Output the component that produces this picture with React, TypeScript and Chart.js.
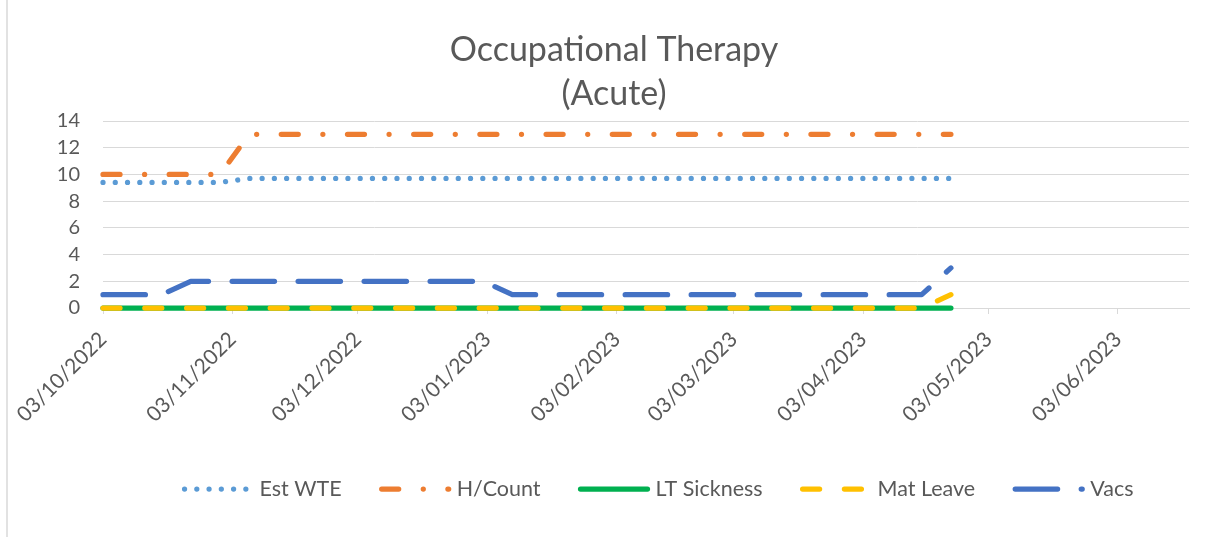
import React, { useEffect, useRef } from 'react';
import { Chart, registerables } from 'chart.js';

Chart.register(...registerables);

// ---------- data ----------
const titleLines = ['Occupational Therapy', '(Acute)'];

const weekDates = [
  '03/10/2022', '10/10/2022', '17/10/2022', '24/10/2022', '31/10/2022',
  '07/11/2022', '14/11/2022', '21/11/2022', '28/11/2022',
  '05/12/2022', '12/12/2022', '19/12/2022', '26/12/2022',
  '02/01/2023', '09/01/2023', '16/01/2023', '23/01/2023', '30/01/2023',
  '06/02/2023', '13/02/2023', '20/02/2023', '27/02/2023',
  '06/03/2023', '13/03/2023', '20/03/2023', '27/03/2023',
  '03/04/2023', '10/04/2023', '17/04/2023', '24/04/2023',
];

const estWTE = [
  9.4, 9.4, 9.4, 9.4, 9.4,
  9.7, 9.7, 9.7, 9.7,
  9.7, 9.7, 9.7, 9.7,
  9.7, 9.7, 9.7, 9.7, 9.7,
  9.7, 9.7, 9.7, 9.7,
  9.7, 9.7, 9.7, 9.7,
  9.7, 9.7, 9.7, 9.7,
];
const hCount = [
  10, 10, 10, 10, 10,
  13, 13, 13, 13,
  13, 13, 13, 13,
  13, 13, 13, 13, 13,
  13, 13, 13, 13,
  13, 13, 13, 13,
  13, 13, 13, 13,
];
const ltSickness = [
  0, 0, 0, 0, 0,
  0, 0, 0, 0,
  0, 0, 0, 0,
  0, 0, 0, 0, 0,
  0, 0, 0, 0,
  0, 0, 0, 0,
  0, 0, 0, 0,
];
const matLeave = [
  0, 0, 0, 0, 0,
  0, 0, 0, 0,
  0, 0, 0, 0,
  0, 0, 0, 0, 0,
  0, 0, 0, 0,
  0, 0, 0, 0,
  0, 0, 0, 1,
];
const vacs = [
  1, 1, 1, 2, 2,
  2, 2, 2, 2,
  2, 2, 2, 2,
  2, 1, 1, 1, 1,
  1, 1, 1, 1,
  1, 1, 1, 1,
  1, 1, 1, 3,
];

const seriesNames = ['Est WTE', 'H/Count', 'LT Sickness', 'Mat Leave', 'Vacs'];
const seriesValues = [estWTE, hCount, ltSickness, matLeave, vacs];

const xTickLabels = [
  '03/10/2022', '03/11/2022', '03/12/2022', '03/01/2023', '03/02/2023',
  '03/03/2023', '03/04/2023', '03/05/2023', '03/06/2023',
];
const axisStart = '03/10/2022';
const axisEnd = '20/06/2023';
const yMin = 0;
const yMax = 14;
const yStep = 2;

// ---------- styles ----------
const seriesColors = ['#5B9BD5', '#ED7D31', '#00B050', '#FFC000', '#4472C4'];
const seriesDashes: number[][] = [
  [0.01, 12.25],
  [17, 24.6, 0.01, 24.6],
  [],
  [17, 24.8],
  [42.4, 23.6],
];
const LINE_W = 5.25;
const TEXT = '#595959';
const GRID = '#d9d9d9';
const FONT = 'Lato';

function parseDate(s: string): number {
  const [d, m, y] = s.split('/').map(Number);
  return Date.UTC(y, m - 1, d);
}
const base = parseDate(axisStart);
function dayNum(s: string): number {
  return Math.round((parseDate(s) - base) / 86400000);
}

const overlayPlugin = {
  id: 'overlay',
  afterDraw(chart: any) {
    const ctx: CanvasRenderingContext2D = chart.ctx;
    ctx.save();
    // chart border (left edge)
    ctx.strokeStyle = GRID;
    ctx.lineWidth = 1.5;
    ctx.beginPath();
    ctx.moveTo(7, 0);
    ctx.lineTo(7, 537);
    ctx.stroke();

    // title
    ctx.fillStyle = TEXT;
    ctx.font = `34px ${FONT}`;
    ctx.textAlign = 'center';
    ctx.textBaseline = 'alphabetic';
    ctx.fillText(titleLines[0], 614, 61);
    ctx.fillText(titleLines[1], 614, 105);

    // legend
    ctx.font = `21.5px ${FONT}`;
    const sampleLen = 67;
    const textGap = 75;
    const itemGap = 40;
    const widths = seriesNames.map((n) => ctx.measureText(n).width);
    const total = widths.reduce((a, w) => a + textGap + w, 0) + itemGap * (seriesNames.length - 1);
    let x = 659 - total / 2;
    const y = 489;
    seriesNames.forEach((name, i) => {
      ctx.save();
      ctx.strokeStyle = seriesColors[i];
      ctx.lineWidth = LINE_W;
      ctx.lineCap = 'round';
      ctx.setLineDash(seriesDashes[i]);
      ctx.beginPath();
      ctx.moveTo(x, y);
      ctx.lineTo(x + sampleLen, y);
      ctx.stroke();
      ctx.restore();
      ctx.fillStyle = TEXT;
      ctx.textAlign = 'left';
      ctx.textBaseline = 'middle';
      ctx.fillText(name, x + textGap, y);
      x += textGap + widths[i] + itemGap;
    });
    ctx.restore();
  },
};

export default function App() {
  const ref = useRef<HTMLCanvasElement | null>(null);

  useEffect(() => {
    if (!ref.current) return;
    const datasets = seriesNames.map((name, i) => ({
      label: name,
      data: weekDates.map((d, j) => ({ x: dayNum(d), y: seriesValues[i][j] })),
      borderColor: seriesColors[i],
      backgroundColor: seriesColors[i],
      borderWidth: LINE_W,
      borderDash: seriesDashes[i],
      borderCapStyle: 'round' as const,
      borderJoinStyle: 'round' as const,
      pointRadius: 0,
      pointHoverRadius: 0,
      fill: false,
      tension: 0,
      clip: false as const,
      order: seriesNames.length - i,
    }));

    const chart = new Chart(ref.current, {
      type: 'line',
      data: { datasets },
      options: {
        animation: false,
        responsive: false,
        devicePixelRatio: 1,
        layout: { padding: { left: 0, right: 31, top: 121, bottom: 69 } },
        plugins: {
          legend: { display: false },
          title: { display: false },
          tooltip: { enabled: false },
        },
        scales: {
          x: {
            type: 'linear',
            min: 0,
            max: dayNum(axisEnd),
            afterBuildTicks: (axis: any) => {
              axis.ticks = xTickLabels.map((l) => ({ value: dayNum(l) }));
            },
            afterFit: (s: any) => {
              s.height = 160;
            },
            ticks: {
              autoSkip: false,
              maxRotation: 45,
              minRotation: 45,
              color: TEXT,
              font: { family: FONT, size: 21 },
              padding: 13,
              callback: (_v: any, i: number) => xTickLabels[i],
            },
            grid: {
              drawOnChartArea: false,
              drawTicks: true,
              tickLength: 6,
              color: GRID,
              lineWidth: 1,
            },
            border: { display: true, color: GRID, width: 1 },
          },
          y: {
            min: yMin,
            max: yMax,
            afterFit: (s: any) => {
              s.width = 103;
            },
            ticks: {
              stepSize: yStep,
              autoSkip: false,
              color: TEXT,
              font: { family: FONT, size: 20 },
              padding: 23,
            },
            grid: { color: GRID, drawTicks: false, lineWidth: 1 },
            border: { display: false },
          },
        },
      },
      plugins: [overlayPlugin],
    });
    return () => chart.destroy();
  }, []);

  return (
    <div style={{ position: 'fixed', left: 0, top: 0, width: 1220, height: 537, background: '#fff' }}>
      <canvas ref={ref} width={1220} height={537} style={{ width: 1220, height: 537, display: 'block' }} />
    </div>
  );
}
